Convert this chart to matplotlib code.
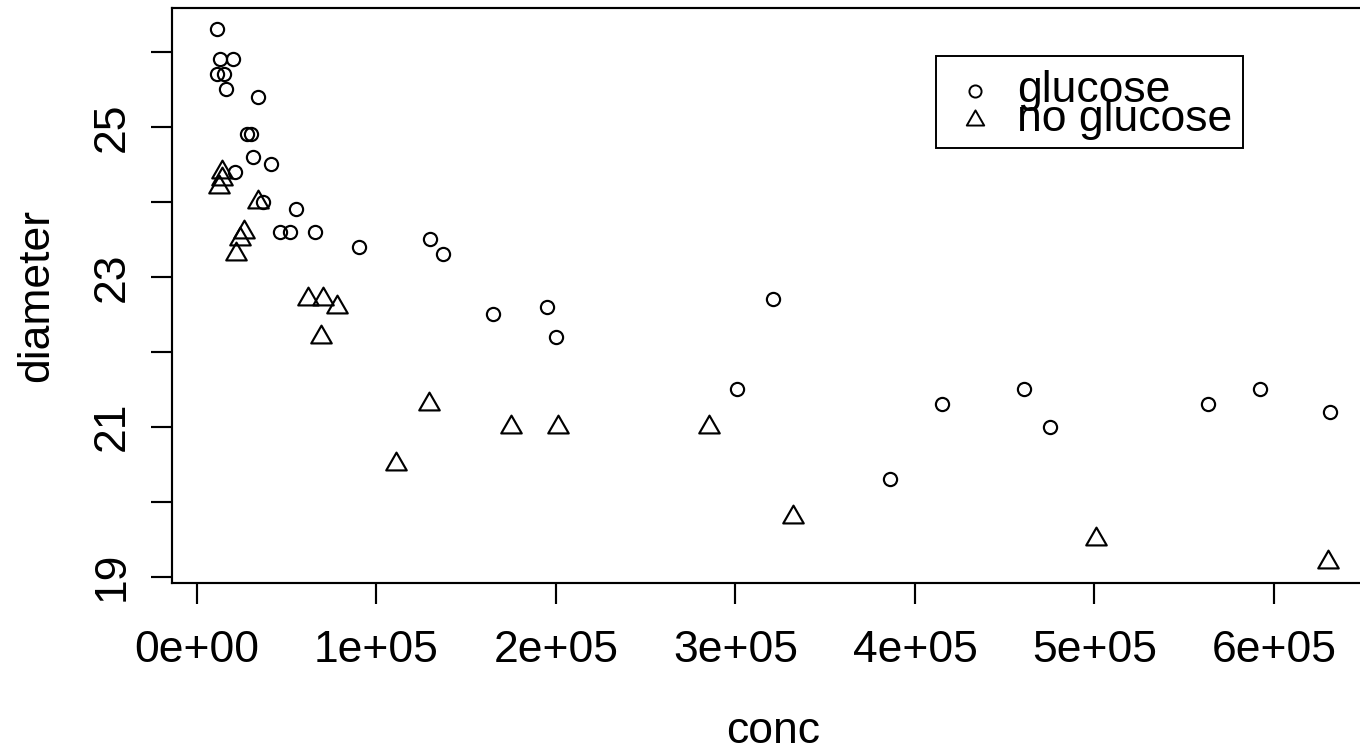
import matplotlib
matplotlib.use("Agg")
import matplotlib.pyplot as plt
from matplotlib.lines import Line2D
from matplotlib.markers import MarkerStyle
from matplotlib.patches import Rectangle
from matplotlib.path import Path


# data
glucose_conc = [11000, 13000, 20000, 11000, 15000, 16000, 34000, 28000, 30000, 31000,
                41000, 21000, 37000, 55000, 46000, 52000, 66000, 90000, 130000, 137000,
                165000, 195000, 200000, 321000, 301000, 415000, 461000, 475000, 386000,
                563000, 592000, 631000]
glucose_diam = [26.3, 25.9, 25.9, 25.7, 25.7, 25.5, 25.4, 24.9, 24.9, 24.6,
                24.5, 24.4, 24.0, 23.9, 23.6, 23.6, 23.6, 23.4, 23.5, 23.3,
                22.5, 22.6, 22.2, 22.7, 21.5, 21.3, 21.5, 21.0, 20.3,
                21.3, 21.5, 21.2]

noglucose_conc = [14000, 14000, 12000, 34000, 26000, 24000, 22000, 62000, 70000, 78000,
                  69000, 129000, 175000, 201000, 111000, 285000, 332000, 501000, 630000]
noglucose_diam = [24.4, 24.3, 24.2, 24.0, 23.6, 23.5, 23.3, 22.7, 22.7, 22.6,
                  22.2, 21.3, 21.0, 21.0, 20.5, 21.0, 19.8, 19.5, 19.2]

x_ticks = [0, 100000, 200000, 300000, 400000, 500000, 600000]
x_tick_labels = ["0e+00", "1e+05", "2e+05", "3e+05", "4e+05", "5e+05", "6e+05"]
y_ticks = [19, 20, 21, 22, 23, 24, 25, 26]
y_tick_labels = ["19", "", "21", "", "23", "", "25", ""]
legend_labels = ["glucose", "no glucose"]

W, H, DPI = 1360, 748, 100
PT = 72 / DPI  # points per pixel

plt.rcParams["font.family"] = ["Liberation Sans", "DejaVu Sans"]
FS = 32


def fx(x):
    return x / W


def fy(y):
    return 1 - y / H


# R style triangle (pch = 2): point sits at the centroid
tri_w, tri_h = 20.5, 17.8
tri_path = Path([(0, 2 * tri_h / 3), (tri_w / 2, -tri_h / 3), (-tri_w / 2, -tri_h / 3), (0, 0)],
                closed=True)
tri_marker = MarkerStyle(tri_path, joinstyle="miter")
tri_ms = 2 * (2 * tri_h / 3) * PT
circ_ms = 13.2 * PT
lw = 1.55


def pad_range(vals):
    lo, hi = min(vals), max(vals)
    d = (hi - lo) * 0.04
    return lo - d, hi + d


xlim = pad_range(glucose_conc + noglucose_conc)
ylim = pad_range(glucose_diam + noglucose_diam)

fig = plt.figure(figsize=(W / DPI, H / DPI), dpi=DPI)

# x: 0 at px 197, 179.5 px per 1e5 ; y: from px 8 to 583
px_per_x = 179.5 / 100000
left_px = 197 + xlim[0] * px_per_x
width_px = (xlim[1] - xlim[0]) * px_per_x
ax = fig.add_axes([fx(left_px), fy(583), width_px / W, (583 - 8) / H])

ax.plot(glucose_conc, glucose_diam, linestyle="none", marker="o", ms=circ_ms,
        mfc="none", mec="black", mew=lw)
ax.plot(noglucose_conc, noglucose_diam, linestyle="none", marker=tri_marker, ms=tri_ms,
        mfc="none", mec="black", mew=lw)

ax.set_xlim(*xlim)
ax.set_ylim(*ylim)
ax.set_xticks(x_ticks)
ax.set_xticklabels(x_tick_labels)
ax.set_yticks(y_ticks)
ax.set_yticklabels(y_tick_labels, rotation=90, va="center", ha="center")

for s in ax.spines.values():
    s.set_linewidth(lw)
ax.tick_params(direction="out", length=21 * PT, width=lw, labelsize=FS, colors="black")
ax.tick_params(axis="x", pad=19)
ax.tick_params(axis="y", pad=(172 - 21 - 112) * PT)

# axis titles placed in figure pixels (centre of the plot box)
ax.set_xlabel("conc", fontsize=FS)
ax.xaxis.label.set_va("baseline")
ax.xaxis.set_label_coords(fx(left_px + width_px / 2), fy(743), transform=fig.transFigure)
ax.set_ylabel("diameter", fontsize=FS)
ax.yaxis.label.set_va("baseline")
ax.yaxis.set_label_coords(fx(48), fy((8 + 583) / 2), transform=fig.transFigure)

# legend box drawn the way R does it (rows overlap a little)
fig.add_artist(Rectangle((fx(936), fy(148)), (1243 - 936) / W, (148 - 56) / H,
                         transform=fig.transFigure, facecolor="white", edgecolor="black",
                         linewidth=lw * 0.9, zorder=3))
fig.add_artist(Line2D([fx(975)], [fy(91)], transform=fig.transFigure, marker="o",
                      ms=circ_ms * 0.92, mfc="none", mec="black", mew=lw * 0.9,
                      linestyle="none", zorder=4))
fig.add_artist(Line2D([fx(975)], [fy(120)], transform=fig.transFigure, marker=tri_marker,
                      ms=tri_ms * 0.85, mfc="none", mec="black", mew=lw * 0.9,
                      linestyle="none", zorder=4))
fig.text(fx(1017), fy(102), legend_labels[0], fontsize=FS, va="baseline", ha="left", zorder=5)
fig.text(fx(1017), fy(131), legend_labels[1], fontsize=FS, va="baseline", ha="left", zorder=5)

fig.savefig("out.png", dpi=DPI)
